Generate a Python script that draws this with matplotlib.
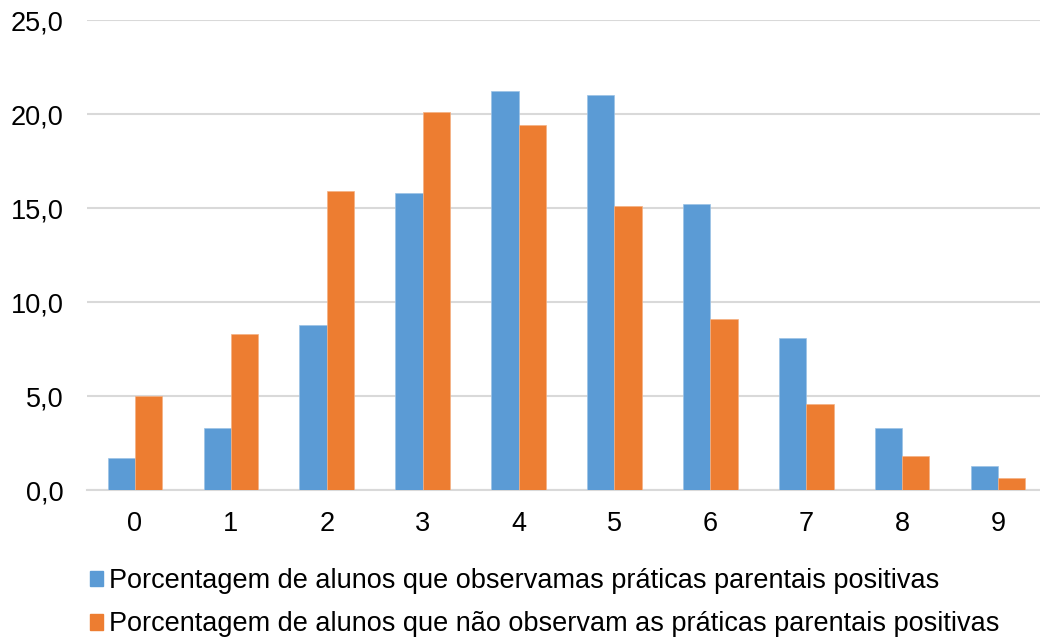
import matplotlib
matplotlib.use("Agg")
import matplotlib.pyplot as plt
from matplotlib.patches import Patch
from matplotlib.ticker import FuncFormatter
import numpy as np

categories = ["0", "1", "2", "3", "4", "5", "6", "7", "8", "9"]
observam = [1.7, 3.3, 8.8, 15.8, 21.2, 21.0, 15.2, 8.1, 3.3, 1.3]
nao_observam = [5.0, 8.3, 15.9, 20.1, 19.4, 15.1, 9.1, 4.6, 1.8, 0.65]
series_labels = [
    "Porcentagem de alunos que observamas práticas parentais positivas",
    "Porcentagem de alunos que não observam as práticas parentais positivas",
]
y_ticks = [0, 5, 10, 15, 20, 25]

BLUE = "#5B9BD5"
ORANGE = "#ED7D31"
GRID = "#D9D9D9"
FS = 19.5

plt.rcParams["font.family"] = ["Liberation Sans", "DejaVu Sans"]

fig = plt.figure(figsize=(10.4, 6.37), dpi=100)
# axes run slightly past the right edge of the figure
ax = fig.add_axes([87 / 1040, 1 - 490 / 637, 959 / 1040, 470 / 637])

x = np.arange(len(categories))
width = 0.285
ax.bar(x - width / 2, observam, width, color=BLUE, edgecolor="#9CC3E6",
       linewidth=0.5, zorder=3)
ax.bar(x + width / 2, nao_observam, width, color=ORANGE, edgecolor="#F4B183",
       linewidth=0.5, zorder=3)

ax.set_xlim(-0.5, len(categories) - 0.5)
ax.set_ylim(0, 25)
ax.set_xticks(x)
ax.set_xticklabels(categories)
ax.set_yticks(y_ticks)
ax.yaxis.set_major_formatter(FuncFormatter(lambda v, _: f"{v:.1f}".replace(".", ",")))

ax.grid(axis="y", color=GRID, linewidth=1.5, zorder=0)
for side in ["top", "right", "left"]:
    ax.spines[side].set_visible(False)
ax.spines["bottom"].set_color(GRID)
ax.spines["bottom"].set_linewidth(1.5)
ax.tick_params(axis="both", length=0, labelsize=FS, colors="black")
ax.tick_params(axis="x", pad=15)
ax.tick_params(axis="y", pad=17)

handles = [Patch(color=BLUE), Patch(color=ORANGE)]
fig.legend(handles, series_labels, loc="upper left",
           bbox_to_anchor=(79 / 1040, 1 - 557 / 637), frameon=False,
           fontsize=FS, handlelength=0.5, handleheight=0.5,
           handletextpad=0.2, labelspacing=0.65, borderaxespad=0)

fig.savefig("out.png", dpi=100)
